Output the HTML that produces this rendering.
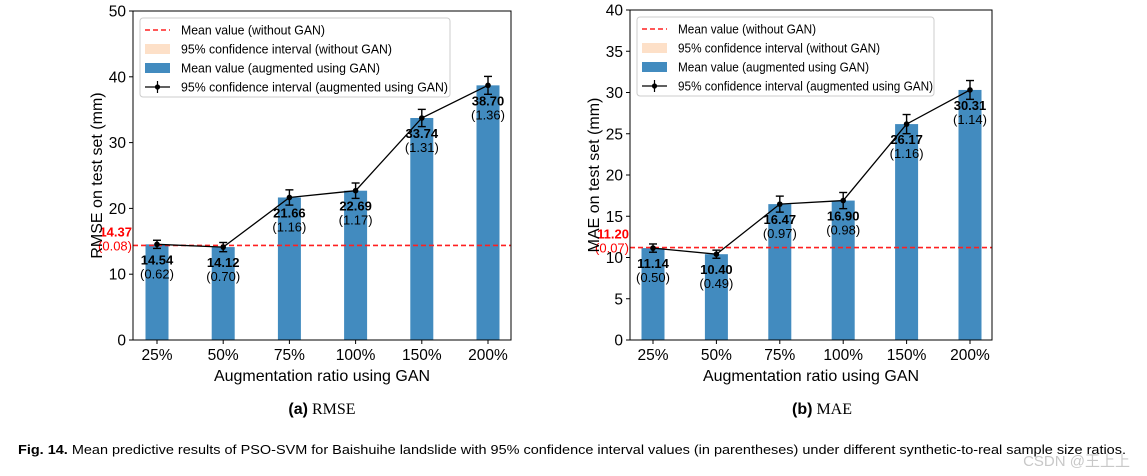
<!DOCTYPE html>
<html><head><meta charset="utf-8"><style>
body{margin:0;background:#fff;}
svg{display:block;font-family:"Liberation Sans","Noto Sans CJK SC",sans-serif;}
</style></head><body>
<svg id="fig" width="1147" height="476" viewBox="0 0 1147 476">
<g id="cA"></g>
<g id="cB"></g>
<text x="322" y="414" text-anchor="middle" font-size="16"><tspan font-weight="bold">(a)</tspan><tspan font-family="Liberation Serif, serif"> RMSE</tspan></text>
<text x="822" y="414" text-anchor="middle" font-size="16"><tspan font-weight="bold">(b)</tspan><tspan font-family="Liberation Serif, serif"> MAE</tspan></text>
<text x="18" y="454" font-size="13" textLength="1108" lengthAdjust="spacingAndGlyphs"><tspan font-weight="bold">Fig. 14.</tspan> Mean predictive results of PSO-SVM for Baishuihe landslide with 95% confidence interval values (in parentheses) under different synthetic-to-real sample size ratios.</text>
<text x="1130" y="466" text-anchor="end" font-size="15" fill="#c8c8c8">CSDN @王上上</text>
</svg>
<script>
const categories=["25%","50%","75%","100%","150%","200%"];
const rmseValues=[14.54,14.12,21.66,22.69,33.74,38.70];
const rmseCI=[0.62,0.70,1.16,1.17,1.31,1.36];
const rmseBase=14.37, rmseBaseCI=0.08;
const rmseTicks=[0,10,20,30,40,50];
const maeValues=[11.14,10.40,16.47,16.90,26.17,30.31];
const maeCI=[0.50,0.49,0.97,0.98,1.16,1.14];
const maeBase=11.20, maeBaseCI=0.07;
const maeTicks=[0,5,10,15,20,25,30,35,40];
const NS="http://www.w3.org/2000/svg";
function mk(p,t,a,txt){const e=document.createElementNS(NS,t);for(const k in a)e.setAttribute(k,a[k]);if(txt!==undefined)e.textContent=txt;p.appendChild(e);return e;}
function draw(g,cfg){
 const {L,R,T,B,ymax,c0,dx,vals,ci,base,baseCI,ticks,ylabel,lg}=cfg;
 const y=v=>B-(v/ymax)*(B-T);
 const x=i=>c0+i*dx;
 const bw=23;
 vals.forEach((v,i)=>{const r=mk(g,'rect',{x:x(i)-bw/2,y:y(v),width:bw,height:B-y(v),fill:'#428bbf'});
  
  });
 const bl=mk(g,'line',{x1:L,x2:R,y1:y(base),y2:y(base),stroke:'#ff2020',"stroke-width":1.6,"stroke-dasharray":"5,3"});
 
 
 const pl=mk(g,'polyline',{points:vals.map((v,i)=>x(i)+','+y(v)).join(' '),fill:'none',stroke:'#000',"stroke-width":1.3});
 
 
 vals.forEach((v,i)=>{
  const eg=mk(g,'g',{});
  
  
  const a=y(v+ci[i]),b=y(v-ci[i]);
  mk(eg,'line',{x1:x(i),x2:x(i),y1:a,y2:b,stroke:'#000',"stroke-width":1.4});
  mk(eg,'line',{x1:x(i)-4,x2:x(i)+4,y1:a,y2:a,stroke:'#000',"stroke-width":1.4});
  mk(eg,'line',{x1:x(i)-4,x2:x(i)+4,y1:b,y2:b,stroke:'#000',"stroke-width":1.4});
  mk(eg,'circle',{cx:x(i),cy:y(v),r:2.8,fill:'#000'});
  const t1=mk(g,'text',{x:x(i),y:y(v)+20,"text-anchor":"middle","font-size":13,"font-weight":"bold"},v.toFixed(2));
  
  
  const t2=mk(g,'text',{x:x(i),y:y(v)+34,"text-anchor":"middle","font-size":13},'('+ci[i].toFixed(2)+')');
  
  
  mk(g,'line',{x1:x(i),x2:x(i),y1:B,y2:B+4,stroke:'#000'});
  const xt=mk(g,'text',{x:x(i),y:B+20,"text-anchor":"middle","font-size":15.5},categories[i]);
  
  
 });
 const b1=mk(g,'text',{x:L-1,y:y(base)-9,"text-anchor":"end","font-size":13,"font-weight":"bold",fill:'#f00'},base.toFixed(2));
 
 
 const b2=mk(g,'text',{x:L-1,y:y(base)+5,"text-anchor":"end","font-size":13,fill:'#f00'},'('+baseCI.toFixed(2)+')');
 
 
 ticks.forEach(t=>{mk(g,'line',{x1:L-4,x2:L,y1:y(t),y2:y(t),stroke:'#000'});
  const yt=mk(g,'text',{x:L-7,y:y(t)+5.5,"text-anchor":"end","font-size":15.5},t);
  
  });
 mk(g,'rect',{x:L,y:T,width:R-L,height:B-T,fill:'none',stroke:'#000',"stroke-width":1});
 const yl=mk(g,'text',{x:0,y:0,transform:`translate(${L-31},${(T+B)/2}) rotate(-90)`,"text-anchor":"middle","font-size":16},ylabel);
 
 
 const xl=mk(g,'text',{x:(L+R)/2,y:B+41,"text-anchor":"middle","font-size":16},'Augmentation ratio using GAN');
 
 
 const lgG=mk(g,'g',{});
 
 
 mk(lgG,'rect',{x:lg.x,y:lg.y,width:lg.w,height:79,rx:3,fill:'#fff',"fill-opacity":0.85,stroke:'#ccc'});
 const lx=lg.x+5, ty=lg.y+12;
 const labels=['Mean value (without GAN)','95% confidence interval (without GAN)','Mean value (augmented using GAN)','95% confidence interval (augmented using GAN)'];
 mk(lgG,'line',{x1:lx,x2:lx+25,y1:ty,y2:ty,stroke:'#ff2020',"stroke-width":1.5,"stroke-dasharray":"5,3"});
 mk(lgG,'rect',{x:lx,y:ty+19-5,width:25,height:10,fill:'#fde0c8'});
 mk(lgG,'rect',{x:lx,y:ty+38-5,width:25,height:10,fill:'#428bbf'});
 mk(lgG,'line',{x1:lx,x2:lx+25,y1:ty+57,y2:ty+57,stroke:'#000',"stroke-width":1.2});
 mk(lgG,'line',{x1:lx+12.5,x2:lx+12.5,y1:ty+51,y2:ty+63,stroke:'#000',"stroke-width":1.2});
 mk(lgG,'circle',{cx:lx+12.5,cy:ty+57,r:2.6,fill:'#000'});
 labels.forEach((s,i)=>{const t=mk(lgG,'text',{x:lx+36,y:ty+i*19+4.5,"font-size":13,textLength:lg.tl[i],lengthAdjust:"spacingAndGlyphs"},s);
  
  });
}
draw(document.getElementById('cA'),{L:133,R:511,T:11,B:340,ymax:50,c0:157,dx:66.2,vals:rmseValues,ci:rmseCI,base:rmseBase,baseCI:rmseBaseCI,ticks:rmseTicks,ylabel:'RMSE on test set (mm)',lg:{x:140,y:18,w:310,tl:[144,211,199,267]}});
draw(document.getElementById('cB'),{L:630,R:992,T:10,B:340,ymax:40,c0:653,dx:63.4,vals:maeValues,ci:maeCI,base:maeBase,baseCI:maeBaseCI,ticks:maeTicks,ylabel:'MAE on test set (mm)',lg:{x:637,y:17,w:297,tl:[138,202,191,255]}});
</script>
</body></html>
